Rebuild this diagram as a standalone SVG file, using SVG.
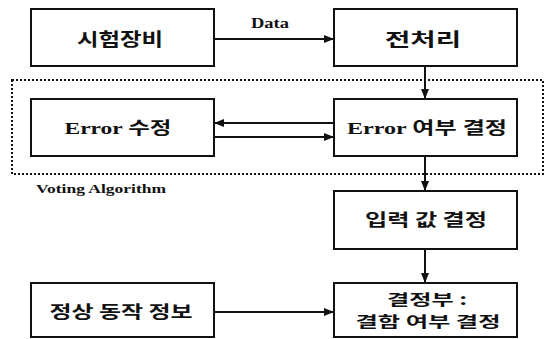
<svg xmlns="http://www.w3.org/2000/svg" width="551" height="339" viewBox="0 0 551 339">
<defs>
<style>
.box{fill:#fff;stroke:#111;stroke-width:2}
.ko{font-family:"Noto Sans CJK KR","Noto Sans",sans-serif;font-weight:bold;fill:#111;text-anchor:middle}
.mix{font-family:"Liberation Serif","Noto Sans CJK KR",serif;font-weight:bold;fill:#111;text-anchor:middle}
.lbl{font-family:"Liberation Serif",serif;font-weight:bold;fill:#111}
.con{stroke:#111;stroke-width:2;fill:none}
.dot{fill:none;stroke:#111;stroke-width:2;stroke-dasharray:2 2}
</style>
<marker id="ah" viewBox="0 0 10 10" refX="10" refY="5" markerWidth="5" markerHeight="5" markerUnits="strokeWidth" orient="auto">
<path d="M0,1 L10,5 L0,9 z" fill="#111"/>
</marker>
</defs>
<rect width="551" height="339" fill="#fff"/>
<rect class="dot" x="12" y="80" width="531" height="94"/>
<text class="lbl" x="36" y="193" font-size="13" textLength="130" lengthAdjust="spacingAndGlyphs">Voting Algorithm</text>
<g id="connectors">
<line class="con" x1="214" y1="39" x2="334" y2="39" marker-end="url(#ah)"/>
<text class="lbl" x="251" y="28" font-size="15" textLength="38" lengthAdjust="spacingAndGlyphs">Data</text>
<line class="con" x1="425" y1="66" x2="425" y2="99" marker-end="url(#ah)"/>
<line class="con" x1="334" y1="123" x2="214" y2="123" marker-end="url(#ah)"/>
<line class="con" x1="214" y1="137" x2="334" y2="137" marker-end="url(#ah)"/>
<line class="con" x1="425" y1="156" x2="425" y2="191" marker-end="url(#ah)"/>
<line class="con" x1="425" y1="249" x2="425" y2="283" marker-end="url(#ah)"/>
<line class="con" x1="214" y1="312" x2="334" y2="312" marker-end="url(#ah)"/>
</g>
<g id="n1">
<rect class="box" x="31" y="9" width="183" height="57"/>
<text class="ko" x="120" y="46" font-size="18" textLength="86" lengthAdjust="spacingAndGlyphs">시험장비</text>
</g>
<g id="n2">
<rect class="box" x="334" y="9" width="183" height="57"/>
<text class="ko" x="423" y="46" font-size="18" textLength="76" lengthAdjust="spacingAndGlyphs">전처리</text>
</g>
<g id="n3">
<rect class="box" x="31" y="99" width="183" height="57"/>
<text class="mix" x="118" y="134" font-size="17" textLength="107" lengthAdjust="spacingAndGlyphs">Error 수정</text>
</g>
<g id="n4">
<rect class="box" x="334" y="99" width="183" height="57"/>
<text class="mix" x="427" y="134" font-size="17" textLength="160" lengthAdjust="spacingAndGlyphs">Error 여부 결정</text>
</g>
<g id="n5">
<rect class="box" x="334" y="191" width="183" height="58"/>
<text class="ko" x="426" y="226" font-size="17" textLength="122" lengthAdjust="spacingAndGlyphs">입력 값 결정</text>
</g>
<g id="n6">
<rect class="box" x="31" y="283" width="183" height="54"/>
<text class="ko" x="121" y="318" font-size="17" textLength="143" lengthAdjust="spacingAndGlyphs">정상 동작 정보</text>
</g>
<g id="n7">
<rect class="box" x="334" y="283" width="183" height="54"/>
<text class="ko" x="427" y="305" font-size="15" textLength="80" lengthAdjust="spacingAndGlyphs">결정부 :</text>
<text class="ko" x="428" y="327" font-size="15" textLength="145" lengthAdjust="spacingAndGlyphs">결함 여부 결정</text>
</g>
</svg>
